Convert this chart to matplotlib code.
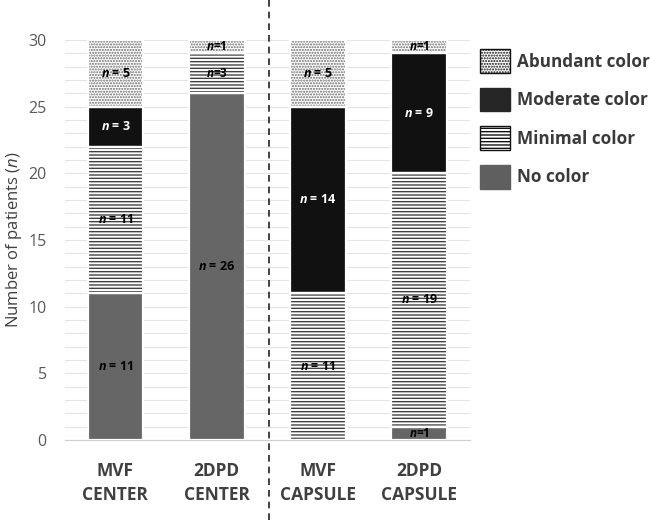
import matplotlib
matplotlib.use("Agg")
import matplotlib.pyplot as plt
import matplotlib.patches as mpatches
import matplotlib.transforms as mtransforms
from matplotlib.lines import Line2D
import numpy as np

plt.rcParams['font.family'] = ['Open Sans', 'DejaVu Sans']
plt.rcParams['mathtext.fontset'] = 'custom'
plt.rcParams['mathtext.it'] = 'Open Sans:italic'
plt.rcParams['mathtext.bf'] = 'Open Sans:italic:bold'
plt.rcParams['mathtext.rm'] = 'Open Sans'

groups = ["MVF\nCENTER", "2DPD\nCENTER", "MVF\nCAPSULE", "2DPD\nCAPSULE"]
levels = ["No color", "Minimal color", "Moderate color", "Abundant color"]
no_color = [11, 26, 0, 1]
minimal = [11, 3, 11, 19]
moderate = [3, 0, 14, 9]
abundant = [5, 1, 5, 1]

series = [no_color, minimal, moderate, abundant]
faces = ["#666666", "white", "#111111", "white"]
hatches = [None, "-----", None, "......"]
hatch_cols = ["#666666", "#404040", "#111111", "#6a6a6a"]
text_cols = ["black", "black", "white", "black"]

fig = plt.figure(figsize=(6.61, 5.2), dpi=100)
ax = fig.add_axes([0.098, 0.154, 0.613, 0.769])

x = np.arange(len(groups))
bottom = np.zeros(len(groups))
w = 0.55
for vals, fc, h, hc, tc in zip(series, faces, hatches, hatch_cols, text_cols):
    vals = np.array(vals, dtype=float)
    ax.bar(x, vals, w, bottom=bottom, color=fc, hatch=h, edgecolor=hc,
           linewidth=0, zorder=2)
    ax.bar(x, vals, w, bottom=bottom, facecolor="none", edgecolor="white",
           linewidth=1.6, zorder=3)
    for xi, v, b in zip(x, vals, bottom):
        if v > 0:
            small = v == 1 or (v == 3 and xi == 1)
            lab = (r"$\mathbf{n}$=%d" if small else r"$\mathbf{n}$ = %d") % v
            ax.text(xi, b + v / 2, lab, ha="center", va="center",
                    fontsize=8.5 if small else 9, fontweight="bold",
                    color=tc, zorder=4)
    bottom += vals

ax.set_xlim(-0.5, 3.5)
ax.set_ylim(0, 30)
ax.set_yticks(range(0, 31, 5))
ax.set_yticks(range(0, 31, 1), minor=True)
ax.grid(axis="y", which="both", color="#e4e4e4", linewidth=0.8, zorder=0)
ax.set_axisbelow(True)
for s in ["top", "right", "left"]:
    ax.spines[s].set_visible(False)
ax.spines["bottom"].set_color("#d0d0d0")
ax.tick_params(axis="y", which="both", length=0, labelsize=11.5,
               labelcolor="#595959", pad=13)
ax.tick_params(axis="x", length=0, labelsize=12.5, labelcolor="#404040", pad=16)
ax.set_xticks(x)
ax.set_xticklabels(groups, fontweight="bold", linespacing=1.45)
ax.set_ylabel(r"Number of patients ($\mathit{n}$)", fontsize=12,
              color="#404040", labelpad=3)

# dashed divider between center and capsule groups
trans = mtransforms.blended_transform_factory(ax.transData, fig.transFigure)
fig.add_artist(Line2D([1.52, 1.52], [0, 1], transform=trans, color="#222222",
                      linestyle=(0, (4, 3)), linewidth=1.2))

handles = [
    mpatches.Patch(facecolor="white", edgecolor="#111111", hatch="......",
                   linewidth=1, label="Abundant color"),
    mpatches.Patch(facecolor="#262626", edgecolor="#262626", label="Moderate color"),
    mpatches.Patch(facecolor="white", edgecolor="#111111", hatch="-----",
                   linewidth=1, label="Minimal color"),
    mpatches.Patch(facecolor="#5f5f5f", edgecolor="#5f5f5f", label="No color"),
]
leg = fig.legend(handles=handles, loc="upper left",
                 bbox_to_anchor=(0.703, 0.935), frameon=False,
                 prop={"weight": "bold", "size": 12.3},
                 handlelength=1.75, handleheight=1.75, labelspacing=0.88,
                 handletextpad=0.4)
for t in leg.get_texts():
    t.set_color("#3a3a3a")

fig.savefig("out.png", dpi=100)
